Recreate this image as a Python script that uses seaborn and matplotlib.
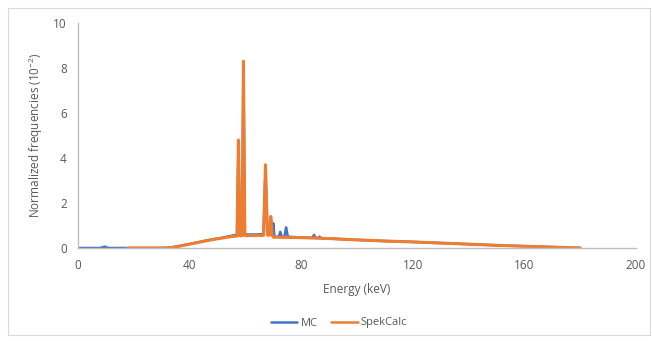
import matplotlib
matplotlib.use("Agg")
import matplotlib.pyplot as plt
import seaborn as sns
import pandas as pd
from matplotlib.patches import Rectangle
from matplotlib.lines import Line2D

# ---- data ----
mc_energy = [0, 8, 9.5, 11, 20, 30, 32, 34, 36, 38, 40, 42, 44, 46, 48, 50, 52, 54, 56,
             57.0, 57.5, 58.0, 58.8, 59.3, 59.8, 60.5, 62, 64, 66.5, 67.2, 67.9, 68.6,
             69.1, 69.6, 70.0, 70.4, 72.0, 72.5, 73.0, 74.0, 74.6, 75.2, 80, 84.0, 84.6,
             85.2, 86.0, 86.6, 87.2, 90, 100, 110, 120, 130, 140, 150, 160, 170, 180]
mc_freq = [0, 0, 0.06, 0, 0, 0, 0.01, 0.04, 0.08, 0.13, 0.18, 0.23, 0.28, 0.33, 0.38, 0.42,
           0.46, 0.52, 0.57, 0.58, 4.6, 0.6, 0.6, 8.0, 0.6, 0.6, 0.6, 0.6, 0.62, 3.5, 0.62,
           0.62, 1.3, 0.62, 1.1, 0.5, 0.5, 0.72, 0.5, 0.5, 0.92, 0.5, 0.47, 0.45, 0.58, 0.45,
           0.44, 0.5, 0.43, 0.42, 0.36, 0.31, 0.27, 0.22, 0.17, 0.12, 0.08, 0.04, 0.0]

spek_energy = [18, 25, 30, 32, 34, 36, 38, 40, 42, 44, 46, 48, 50, 52, 54, 56, 57.0, 57.5,
               58.0, 58.8, 59.3, 59.8, 60.5, 62, 64, 66.5, 67.2, 67.9, 68.6, 69.1, 69.6,
               70, 75, 80, 90, 100, 110, 120, 130, 140, 150, 160, 170, 180]
spek_freq = [0, 0, 0, 0, 0.03, 0.07, 0.12, 0.17, 0.22, 0.27, 0.32, 0.37, 0.41, 0.45, 0.49,
             0.52, 0.53, 4.8, 0.54, 0.54, 8.3, 0.55, 0.55, 0.55, 0.56, 0.56, 3.7, 0.57, 0.57,
             1.4, 0.57, 0.48, 0.47, 0.46, 0.42, 0.36, 0.31, 0.27, 0.22, 0.17, 0.12, 0.08,
             0.04, 0.0]

series_names = ["MC", "SpekCalc"]
x_ticks = [0, 40, 80, 120, 160, 200]
y_ticks = [0, 2, 4, 6, 8, 10]

blue = "#4472C4"
orange = "#ED7D31"
grey = "#595959"

sns.set_style("white")
plt.rcParams["font.family"] = ["Open Sans", "DejaVu Sans"]

fig = plt.figure(figsize=(6.52, 3.41), dpi=100)
ax = fig.add_axes([78 / 652, 1 - 248 / 341, (636 - 78) / 652, (248 - 23) / 341])

df_mc = pd.DataFrame({"Energy": mc_energy, "Freq": mc_freq})
df_sp = pd.DataFrame({"Energy": spek_energy, "Freq": spek_freq})
sns.lineplot(data=df_mc, x="Energy", y="Freq", ax=ax, color=blue, linewidth=1.8,
             estimator=None, sort=False)
sns.lineplot(data=df_sp, x="Energy", y="Freq", ax=ax, color=orange, linewidth=2.2,
             estimator=None, sort=False)

ax.set_xlim(0, 200)
ax.set_ylim(0, 10)
ax.set_xticks(x_ticks)
ax.set_yticks(y_ticks)
ax.tick_params(axis="both", length=0, labelsize=8.5, colors=grey, pad=8)
ax.set_xlabel("Energy (keV)", fontsize=8.5, color=grey, labelpad=8)
ax.set_ylabel("Normalized frequencies (10$^{\\mathregular{-2}}$)", fontsize=8.5,
              color=grey, labelpad=6)

for s in ["top", "right"]:
    ax.spines[s].set_visible(False)
for s in ["left", "bottom"]:
    ax.spines[s].set_color("#BFBFBF")
    ax.spines[s].set_linewidth(1.0)

handles = [Line2D([0], [0], color=blue, lw=1.8), Line2D([0], [0], color=orange, lw=1.8)]
fig.legend(handles, series_names, loc="center", bbox_to_anchor=(0.52, 1 - 323 / 341),
           ncol=2, frameon=False, fontsize=8, labelcolor=grey, handlelength=2.4,
           columnspacing=1.2, handletextpad=0.3)

fig.patches.append(Rectangle((8 / 652, 1 - 335 / 341), 642 / 652, 327 / 341,
                             transform=fig.transFigure, fill=False,
                             edgecolor="#D9D9D9", linewidth=0.8))

fig.savefig("out.png", dpi=100)
